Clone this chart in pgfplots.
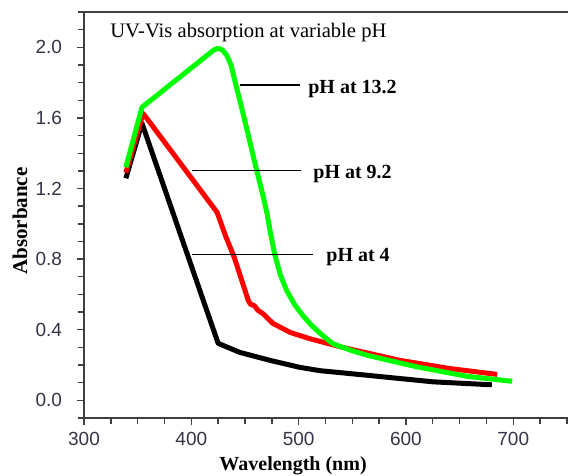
\documentclass[border=0pt]{standalone}
\usepackage{fontspec}
\setmainfont{Liberation Serif}
\newfontfamily\arial{Liberation Sans}
\usepackage{pgfplots}
\pgfplotsset{compat=1.18}

\definecolor{axgray}{RGB}{64,64,64}
\definecolor{ticktext}{RGB}{52,52,72}
\definecolor{pgreen}{RGB}{0,255,0}
\definecolor{pred}{RGB}{255,0,0}

\begin{document}
\begin{tikzpicture}
\begin{axis}[
  scale only axis,
  width=242pt, height=203pt,
  xmin=300, xmax=751,
  ymin=-0.1, ymax=2.2,
  axis x line=bottom, axis y line=left,
  axis line style={-, axgray, line width=0.75pt},
  tick style={axgray, line width=0.7pt},
  tick align=outside,
  major tick length=3.5pt, minor tick length=3.2pt,
  xtick={300,400,...,700},
  minor xtick={325,350,...,750},
  ytick={0,0.4,...,2.0},
  minor ytick={-0.1,0,...,2.2},
  yticklabel style={/pgf/number format/fixed, /pgf/number format/fixed zerofill,
    /pgf/number format/precision=1, xshift=-4pt},
  xticklabel style={yshift=-2.5pt, inner sep=1pt},
  /pgf/number format/assume math mode=true,
  tick label style={font=\arial\fontsize{9.5}{11}\selectfont, text=ticktext},
  clip=false,
]
\coordinate (sw) at (rel axis cs:0,0);
\coordinate (ne) at (rel axis cs:1,1);
\draw[axgray, line width=0.75pt] (rel axis cs:0,1) -- (rel axis cs:1,1);

% pH 4
\addplot[black, line width=2.5pt, line join=round] coordinates {
  (339,1.258) (354,1.57) (425,0.323) (445,0.272) (473,0.227) (501,0.187)
  (520,0.168) (564,0.142) (625,0.105) (680,0.088)
};
% pH 9.2
\addplot[pred, line width=2.5pt, line join=round] coordinates {
  (339,1.29) (355,1.626) (424,1.065) (432,0.93) (440,0.81) (447,0.68)
  (453,0.567) (455,0.545) (459,0.535) (462,0.51) (467,0.49) (476,0.436)
  (492,0.385) (510,0.35) (541,0.30) (594,0.227) (641,0.18) (685,0.147)
};
% pH 13.2
\addplot[pgreen, line width=2.5pt, line join=round] coordinates {
  (339,1.32) (354,1.66) (421,1.985) (425,1.994) (429,1.985) (433,1.955)
  (437,1.90) (441,1.80) (446,1.68) (452,1.53) (461,1.30) (466,1.18)
  (470.5,1.06) (474,0.94) (478,0.82) (483,0.71) (489,0.62) (496,0.545)
  (504,0.48) (512,0.425) (520,0.38) (532,0.32) (548,0.285) (564,0.255)
  (610,0.19) (657,0.136) (699,0.108)
};

\draw[black, line width=0.8pt] (axis cs:445.3,1.785) -- (axis cs:501.2,1.785);
\draw[black, line width=0.8pt] (axis cs:400.6,1.303) -- (axis cs:502,1.303);
\draw[black, line width=0.8pt] (axis cs:400.6,0.827) -- (axis cs:513.4,0.827);

\node[anchor=base west, inner sep=0pt, font=\bfseries\fontsize{10}{12}\selectfont]
  at (axis cs:508.7,1.739) {pH at 13.2};
\node[anchor=base west, inner sep=0pt, font=\bfseries\fontsize{10}{12}\selectfont]
  at (axis cs:513.4,1.258) {pH at 9.2};
\node[anchor=base west, inner sep=0pt, font=\bfseries\fontsize{10}{12}\selectfont]
  at (axis cs:525.5,0.784) {pH at 4};
\node[anchor=base west, inner sep=0pt, font=\fontsize{10.3}{12}\selectfont]
  at (axis cs:324.2,2.058) {UV-Vis absorption at variable pH};

\node[anchor=south, inner sep=0pt, font=\bfseries\fontsize{10}{12}\selectfont]
  at ([yshift=-28.7pt]rel axis cs:0.432,0) {Wavelength (nm)};
\node[rotate=90, anchor=center, inner sep=0pt, font=\bfseries\fontsize{10.5}{12}\selectfont]
  at ([xshift=-32pt]rel axis cs:0,0.485) {Absorbance};
\end{axis}
\pgfresetboundingbox
\path ([shift={(-42pt,-29pt)}]sw) rectangle ([shift={(0pt,6pt)}]ne);
\end{tikzpicture}
\end{document}
